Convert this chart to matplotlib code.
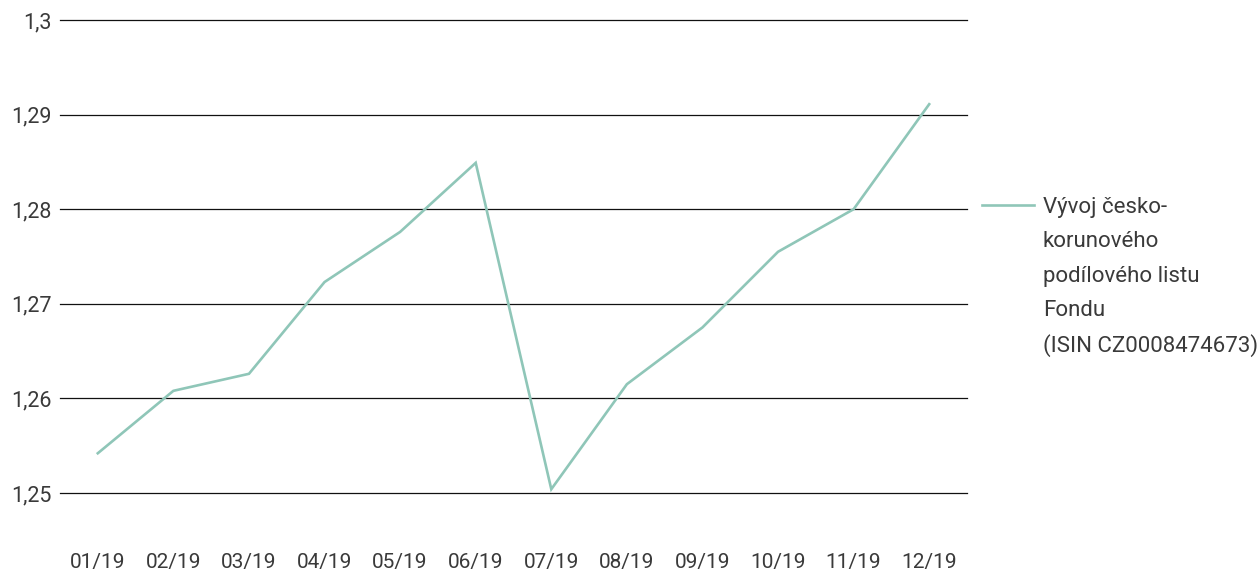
"""Monthly NAV of the CZK share class, 2019."""

import matplotlib

matplotlib.use("Agg")
import matplotlib.pyplot as plt
from matplotlib.lines import Line2D
from matplotlib.ticker import FuncFormatter, MultipleLocator

MONTHS = ["01/19", "02/19", "03/19", "04/19", "05/19", "06/19",
          "07/19", "08/19", "09/19", "10/19", "11/19", "12/19"]
NAV = [1.2542, 1.2608, 1.2626, 1.2723, 1.2776, 1.2849,
       1.2504, 1.2615, 1.2675, 1.2755, 1.2800, 1.2911]
LEGEND_LINES = ["Vývoj česko-", "korunového", "podílového listu", "Fondu",
                "(ISIN CZ0008474673)"]

LINE_COLOR = "#8fc6b8"
TEXT_COLOR = "#3a3a3a"

plt.rcParams["font.family"] = ["Roboto", "DejaVu Sans"]

fig = plt.figure(figsize=(12.6, 5.71), dpi=100)
ax = fig.add_axes([60 / 1260, 1 - 493 / 571, 907 / 1260, 473 / 571])

x = list(range(len(MONTHS)))
ax.plot(x, NAV, color=LINE_COLOR, linewidth=1.9, solid_joinstyle="miter",
        zorder=3)

ax.set_xlim(-0.5, len(MONTHS) - 0.5)
ax.set_ylim(1.25, 1.30)
ax.yaxis.set_major_locator(MultipleLocator(0.01))
ax.yaxis.set_major_formatter(
    FuncFormatter(lambda v, _: f"{v:.2f}".rstrip("0").replace(".", ","))
)
ax.set_xticks(x)
ax.set_xticklabels(MONTHS)

ax.grid(axis="y", color="#111111", linewidth=0.9)
ax.set_axisbelow(True)
for gl in ax.get_ygridlines():
    gl.set_clip_on(False)
for spine in ax.spines.values():
    spine.set_visible(False)

ax.tick_params(axis="both", length=0, labelcolor=TEXT_COLOR)
ax.tick_params(axis="y", pad=6, labelsize=15.5)
ax.tick_params(axis="x", pad=43, labelsize=15)

handles = [Line2D([], [], color=LINE_COLOR, linewidth=1.9)]
handles += [Line2D([], [], color="none") for _ in LEGEND_LINES[1:]]
leg = fig.legend(handles, LEGEND_LINES, loc="upper left",
                 bbox_to_anchor=(982 / 1260, 1 - 197 / 571),
                 frameon=False, fontsize=16, handlelength=2.34,
                 handletextpad=0.4, labelspacing=0.6, borderpad=0,
                 borderaxespad=0)
for t in leg.get_texts():
    t.set_color(TEXT_COLOR)

fig.savefig("out.png", dpi=100)
